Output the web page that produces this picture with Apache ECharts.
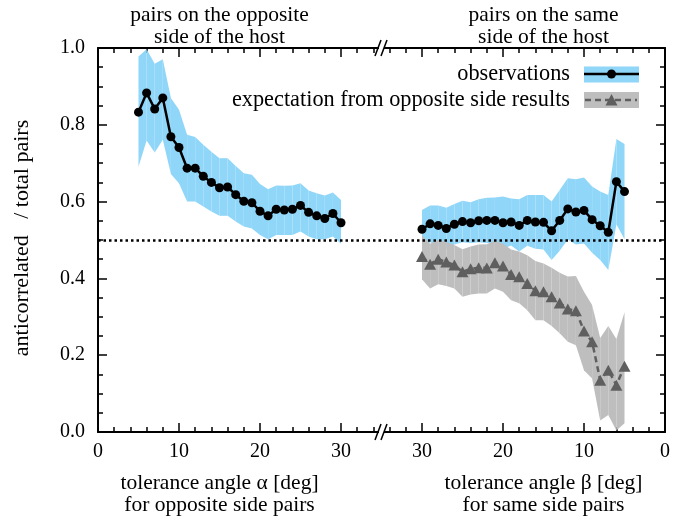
<!DOCTYPE html>
<html><head><meta charset="utf-8">
<script src="https://cdn.jsdelivr.net/npm/echarts@6/dist/echarts.min.js"></script>
<style>html,body{margin:0;padding:0;background:#fff}#c{width:684px;height:519px}</style>
</head><body><div id="c"></div>
<script>
// ---- data: pairs on the opposite side (tolerance angle alpha) ----
const alpha = [5,6,7,8,9,10,11,12,13,14,15,16,17,18,19,20,21,22,23,24,25,26,27,28,29,30];
const obsOpp = [0.833,0.883,0.841,0.870,0.769,0.741,0.687,0.687,0.666,0.650,0.636,0.638,0.618,0.601,0.597,0.575,0.563,0.580,0.578,0.580,0.590,0.572,0.563,0.556,0.569,0.545];
const oppUpper = [0.978,0.997,0.959,0.971,0.870,0.839,0.774,0.768,0.748,0.730,0.713,0.713,0.693,0.674,0.670,0.646,0.632,0.642,0.641,0.642,0.648,0.629,0.622,0.616,0.624,0.604];
const oppLower = [0.691,0.759,0.728,0.761,0.672,0.648,0.600,0.600,0.587,0.574,0.563,0.563,0.548,0.535,0.530,0.513,0.502,0.513,0.513,0.513,0.522,0.509,0.502,0.502,0.509,0.490];

// ---- data: pairs on the same side (tolerance angle beta) ----
const beta = [30,29,28,27,26,25,24,23,22,21,20,19,18,17,16,15,14,13,12,11,10,9,8,7,6,5];
const obsSame = [0.528,0.542,0.538,0.530,0.541,0.548,0.545,0.550,0.551,0.551,0.545,0.547,0.538,0.551,0.547,0.546,0.524,0.551,0.581,0.573,0.577,0.553,0.537,0.520,0.652,0.626];
const sameUpper = [0.578,0.590,0.590,0.584,0.594,0.602,0.598,0.606,0.610,0.611,0.613,0.608,0.606,0.617,0.617,0.617,0.600,0.630,0.661,0.658,0.663,0.639,0.626,0.617,0.763,0.750];
const sameLower = [0.478,0.494,0.486,0.476,0.488,0.494,0.492,0.494,0.492,0.491,0.477,0.486,0.470,0.485,0.477,0.475,0.448,0.472,0.501,0.488,0.491,0.467,0.448,0.422,0.541,0.502];
const expect = [0.457,0.437,0.450,0.443,0.435,0.417,0.425,0.428,0.427,0.441,0.432,0.410,0.404,0.387,0.368,0.365,0.352,0.336,0.320,0.316,0.263,0.235,0.135,0.161,0.122,0.171];
const expUpper = [0.512,0.490,0.500,0.495,0.487,0.476,0.483,0.488,0.489,0.498,0.490,0.475,0.470,0.460,0.445,0.439,0.428,0.415,0.405,0.406,0.365,0.331,0.245,0.276,0.242,0.312];
const expLower = [0.398,0.374,0.385,0.380,0.374,0.352,0.358,0.361,0.361,0.374,0.365,0.343,0.335,0.317,0.291,0.291,0.276,0.257,0.235,0.226,0.161,0.139,0.030,0.044,0.004,0.023];

// ---- axis / text ----
const xTickLabels = [0,10,20,30,30,20,10,0];   // shown at combined positions 0..70
const yTicks = [0.0,0.2,0.4,0.6,0.8,1.0];
const PANEL = 35;          // each panel spans 35 degrees; right panel reversed
const XMAX = 2*PANEL;
const reference = 0.5;

const FONT = 'Liberation Serif';
const BLUE = '#8fd6f8';
const GREY = '#bebebe';
const DARK = '#5f5f5f';

const xsOpp = alpha.slice();
const xsSame = beta.map(b => XMAX - b);

function band(xs, lo, hi, color, z) {
  return {
    type: 'custom', z: z, silent: true, clip: true,
    data: xs.map((x, i) => [x, lo[i], hi[i]]),
    encode: { x: 0, y: [1, 2] },
    renderItem: function (params, api) {
      const i = params.dataIndex;
      if (i >= xs.length - 1) return { type: 'group', children: [] };
      const pts = [
        api.coord([xs[i], hi[i]]), api.coord([xs[i+1], hi[i+1]]),
        api.coord([xs[i+1], lo[i+1]]), api.coord([xs[i], lo[i]])
      ];
      return { type: 'polygon', shape: { points: pts }, style: { fill: color } };
    }
  };
}

const chart = echarts.init(document.getElementById('c'), null, { renderer: 'canvas' });

const xBase = {
  type: 'value', min: 0, max: XMAX, interval: 10,
  axisLine: { show: true, onZero: false, lineStyle: { color: '#000', width: 2 } },
  axisTick: { show: true, inside: true, length: 9, lineStyle: { color: '#000', width: 1.5 } },
  minorTick: { show: true, splitNumber: 5, length: 5, lineStyle: { color: '#000', width: 1.5 } },
  splitLine: { show: false }, minorSplitLine: { show: false }
};
const yBase = {
  type: 'value', min: 0, max: 1, interval: 0.2,
  axisLine: { show: true, onZero: false, lineStyle: { color: '#000', width: 2 } },
  axisTick: { show: true, inside: true, length: 9, lineStyle: { color: '#000', width: 1.5 } },
  minorTick: { show: true, splitNumber: 4, length: 5, lineStyle: { color: '#000', width: 1.5 } },
  splitLine: { show: false }, minorSplitLine: { show: false }
};

chart.setOption({
  animation: false,
  backgroundColor: '#fff',
  grid: { left: 98, right: 19, top: 48, bottom: 87, containLabel: false },
  xAxis: [
    Object.assign({}, xBase, { position: 'bottom',
      axisLabel: { show: true, margin: 10, color: '#000', fontFamily: FONT, fontSize: 20,
        formatter: v => String(xTickLabels[Math.round(v / 10)]) } }),
    Object.assign({}, xBase, { position: 'top', axisLabel: { show: false } })
  ],
  yAxis: [
    Object.assign({}, yBase, { position: 'left',
      axisLabel: { show: true, margin: 13, color: '#000', fontFamily: FONT, fontSize: 20,
        formatter: v => v.toFixed(1) } }),
    Object.assign({}, yBase, { position: 'right', axisLabel: { show: false } })
  ],
  series: [
    band(xsOpp, oppLower, oppUpper, BLUE, 1),
    band(xsSame, sameLower, sameUpper, BLUE, 1),
    band(xsSame, expLower, expUpper, GREY, 2),
    {
      type: 'line', z: 3, data: [], silent: true,
      markLine: { silent: true, symbol: 'none', animation: false,
        label: { show: false },
        lineStyle: { color: '#000', width: 2.5, type: [2.5, 3] },
        data: [{ yAxis: reference }] }
    },
    {
      name: 'expectation', type: 'line', z: 4,
      data: xsSame.map((x, i) => [x, expect[i]]),
      symbol: 'triangle', symbolSize: [12, 11],
      itemStyle: { color: DARK },
      lineStyle: { color: DARK, width: 2.5, type: [6, 4] }
    },
    {
      name: 'obsOpp', type: 'line', z: 5,
      data: xsOpp.map((x, i) => [x, obsOpp[i]]),
      symbol: 'circle', symbolSize: 9,
      itemStyle: { color: '#000' }, lineStyle: { color: '#000', width: 2.5 }
    },
    {
      name: 'obsSame', type: 'line', z: 5,
      data: xsSame.map((x, i) => [x, obsSame[i]]),
      symbol: 'circle', symbolSize: 9,
      itemStyle: { color: '#000' }, lineStyle: { color: '#000', width: 2.5 }
    }
  ]
});

// ---- decorations: titles, axis names, legend, axis break ----
const px = v => chart.convertToPixel({ xAxisIndex: 0 }, v);
const py = v => chart.convertToPixel({ yAxisIndex: 0 }, v);
const cLeft = (px(0) + px(30)) / 2;
const cRight = (px(XMAX - 30) + px(XMAX)) / 2;
const yTop = py(1), yBot = py(0);
const cx = px(PANEL);
const TF = '21.5px "' + FONT + '"';
const LF = '22.3px "' + FONT + '"';

function txt(x, y, s, opt) {
  return Object.assign({ type: 'text', x: x, y: y, silent: true,
    style: Object.assign({ text: s, fill: '#000', font: TF,
      textAlign: 'center', textVerticalAlign: 'middle' }, opt || {}) });
}
function brk(y) {
  return [
    { type: 'rect', shape: { x: cx - 2.5, y: y - 3, width: 5, height: 6 }, style: { fill: '#fff' }, z: 100 },
    { type: 'line', shape: { x1: cx - 6.5, y1: y + 8, x2: cx - 0.5, y2: y - 8 }, style: { stroke: '#000', lineWidth: 1.5 }, z: 101 },
    { type: 'line', shape: { x1: cx - 0.5, y1: y + 8, x2: cx + 5.5, y2: y - 8 }, style: { stroke: '#000', lineWidth: 1.5 }, z: 101 }
  ];
}

const lx = 584, lw = 55;
const legendRight = 570;
const graphics = [].concat(
  [
    txt(cLeft, 15, 'pairs on the opposite'),
    txt(cLeft, 37, 'side of the host'),
    txt(cRight, 15, 'pairs on the same'),
    txt(cRight, 37, 'side of the host'),
    txt(cLeft, 483, 'tolerance angle α [deg]'),
    txt(cLeft, 505, 'for opposite side pairs'),
    txt(cRight, 483, 'tolerance angle β [deg]'),
    txt(cRight, 505, 'for same side pairs'),
    Object.assign(txt(0, 0, 'anticorrelated   / total pairs', { font: '22px "' + FONT + '"' }),
      { x: 22, y: (yTop + yBot) / 2 - 2, rotation: Math.PI / 2 }),
    // legend
    txt(legendRight, 74, 'observations', { textAlign: 'right', font: LF }),
    txt(legendRight, 100, 'expectation from opposite side results', { textAlign: 'right', font: LF }),
    { type: 'rect', shape: { x: lx, y: 66.5, width: lw, height: 16 }, style: { fill: BLUE }, z: 50 },
    { type: 'line', shape: { x1: lx, y1: 74, x2: lx + lw, y2: 74 }, style: { stroke: '#000', lineWidth: 2.5 }, z: 51 },
    { type: 'circle', shape: { cx: lx + lw / 2, cy: 74, r: 4.5 }, style: { fill: '#000' }, z: 52 },
    { type: 'rect', shape: { x: lx, y: 92, width: lw, height: 16 }, style: { fill: GREY }, z: 50 },
    { type: 'line', shape: { x1: lx + 1, y1: 100, x2: lx + lw - 2, y2: 100 }, style: { stroke: DARK, lineWidth: 2.5, lineDash: [6, 4] }, z: 51 },
    { type: 'polygon', shape: { points: [[lx + lw / 2, 94], [lx + lw / 2 - 6, 105.5], [lx + lw / 2 + 6, 105.5]] }, style: { fill: DARK }, z: 52 }
  ],
  brk(yTop), brk(yBot)
);
chart.setOption({ graphic: graphics });
</script>
</body></html>
